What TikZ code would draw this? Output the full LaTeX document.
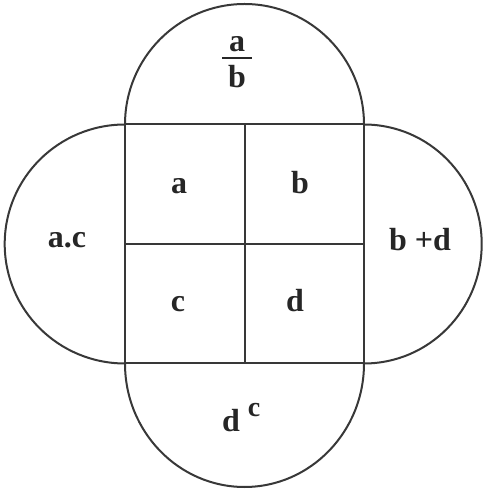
\documentclass[tikz,border=0pt]{standalone}
\usepackage{fontspec}
\setmainfont{Liberation Serif}
\begin{document}
\begin{tikzpicture}[x=1pt,y=1pt,
  edge/.style={draw=black!78,line width=2pt},
  lbl/.style={font=\fontsize{32}{32}\selectfont\bfseries,text=black!85,inner sep=0pt,anchor=base},
  sup/.style={font=\fontsize{28}{28}\selectfont\bfseries,text=black!85,inner sep=0pt,anchor=base}]
\useasboundingbox[fill=white] (0,0) rectangle (483,493);
% square corners
\coordinate (tl) at (125,368.5);
\coordinate (tr) at (364,368.5);
\coordinate (bl) at (125,129.5);
\coordinate (br) at (364,129.5);
\coordinate (tm) at (244.5,368.5);
\coordinate (bm) at (244.5,129.5);
\coordinate (ml) at (125,249);
\coordinate (mr) at (364,249);
% lobes
\draw[edge] (tl) arc[start angle=180,end angle=0,x radius=119.5,y radius=120.5];
\draw[edge] (tl) arc[start angle=90,end angle=270,x radius=120.3,y radius=119.5];
\draw[edge] (tr) arc[start angle=90,end angle=-90,x radius=117.7,y radius=119.5];
\draw[edge] (bl) arc[start angle=180,end angle=360,x radius=119.5,y radius=123.5];
% square and grid
\draw[edge] (tl) -- (tr) -- (br) -- (bl) -- cycle;
\draw[edge] (tm) -- (bm);
\draw[edge] (ml) -- (mr);
% labels
\node[lbl] (na) at (179,299) {a};
\node[lbl] (nb) at (300,299) {b};
\node[lbl] (nc) at (178,181) {c};
\node[lbl] (nd) at (295,181) {d};
\node[lbl] (nac) at (67,245) {a.c};
\node[lbl] (nbd) at (420,242) {b +d};
\node[lbl] (fa) at (237,441) {a};
\node[lbl] (fb) at (237,405) {b};
\coordinate (barl) at (222,435);
\coordinate (barr) at (252,435);
\draw[draw=black!85,line width=2.4pt] (barl) -- (barr);
\node[lbl] (dd) at (231,61) {d};
\node[sup] (dc) at (254,76) {c};
\end{tikzpicture}
\end{document}
